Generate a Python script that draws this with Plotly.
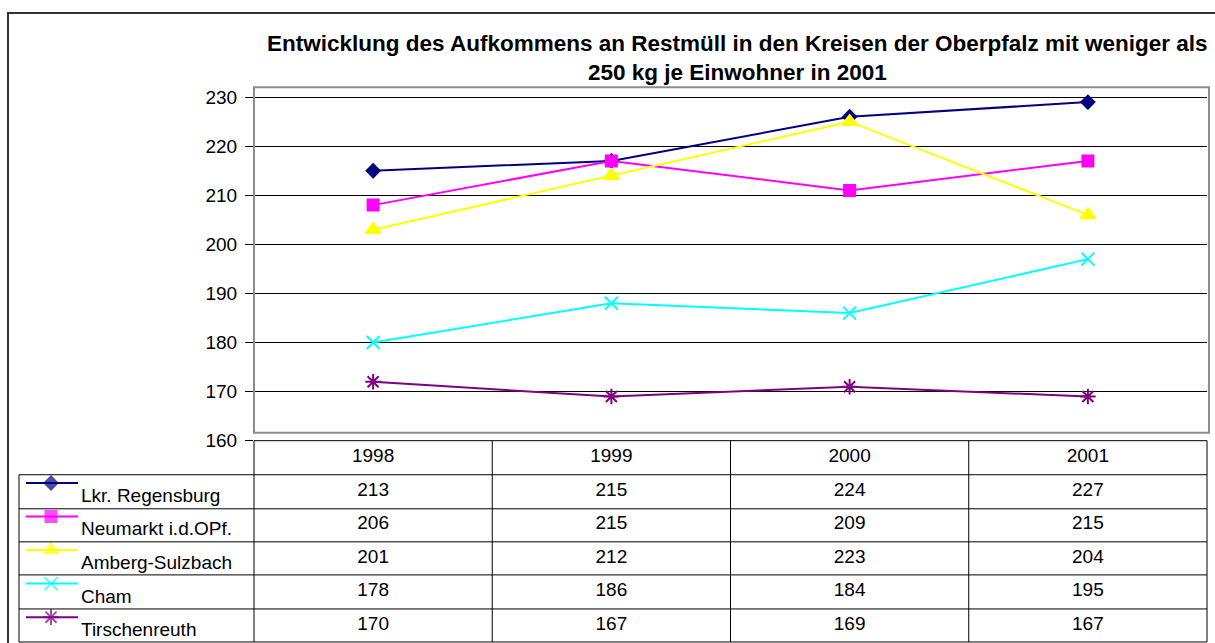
import plotly.graph_objects as go

W, H = 1215, 643
PAGE_H = 655  # the page is photographed a little squeezed vertically

# data
years = ['1998', '1999', '2000', '2001']
series_names = ['Lkr. Regensburg', 'Neumarkt i.d.OPf.', 'Amberg-Sulzbach',
                'Cham', 'Tirschenreuth']
# positions of the points as they are drawn in the chart
regensburg_plot = [215, 217, 226, 229]
neumarkt_plot = [208, 217, 211, 217]
amberg_plot = [203, 214, 225, 206]
cham_plot = [180, 188, 186, 197]
tirschenreuth_plot = [172, 169, 171, 169]
# values printed in the data table below the chart
regensburg_tab = [213, 215, 224, 227]
neumarkt_tab = [206, 215, 209, 215]
amberg_tab = [201, 212, 223, 204]
cham_tab = [178, 186, 184, 195]
tirschenreuth_tab = [170, 167, 169, 167]
y_ticks = [160, 170, 180, 190, 200, 210, 220, 230]

plot_values = [regensburg_plot, neumarkt_plot, amberg_plot, cham_plot,
               tirschenreuth_plot]
table_values = [regensburg_tab, neumarkt_tab, amberg_tab, cham_tab,
                tirschenreuth_tab]

styles = [
    dict(color='#000080', symbol='diamond', size=10),
    dict(color='#FF00FF', symbol='square', size=11),
    dict(color='#FFFF00', symbol='triangle-up', size=13),
    dict(color='#00FFFF', symbol='x-thin-open', size=13),
    dict(color='#800080', symbol='asterisk-open', size=13),
]

FONT = 'Arial, Liberation Sans, sans-serif'
TXT = 19


def px_x(p):
    return p / W


def px_y(p):
    return 1 - p / H


# pixel layout (in picture pixels)
PLOT_L, PLOT_R = 254, 1207
PLOT_TOP, PLOT_BOTTOM = 87, 432
AXIS_TOP, AXIS_BOTTOM = 87, 440  # 160 sits on the table's top edge
TABLE_BOTTOM = 641
LEG_L = 19
PX_PER_UNIT = 4.9

fig = go.Figure()

for name, vals, st in zip(series_names, plot_values, styles):
    fig.add_trace(go.Scatter(
        x=years, y=vals, mode='lines+markers', name=name,
        line=dict(color=st['color'], width=2),
        marker=dict(symbol=st['symbol'], size=st['size'], color=st['color'],
                    line=dict(color=st['color'], width=2)),
        xaxis='x', yaxis='y', showlegend=False,
    ))

# table text: header row (row 0) and values (rows 1..5)
fig.add_trace(go.Scatter(
    x=years, y=[0] * len(years), mode='text', text=years,
    textfont=dict(family=FONT, size=TXT, color='black'),
    xaxis='x', yaxis='y2', showlegend=False,
))
for i, vals in enumerate(table_values):
    fig.add_trace(go.Scatter(
        x=years, y=[i + 1] * len(years), mode='text',
        text=[str(v) for v in vals],
        textfont=dict(family=FONT, size=TXT, color='black'),
        xaxis='x', yaxis='y2', showlegend=False,
    ))

# legend keys inside the table's first column
for i, st in enumerate(styles):
    fig.add_trace(go.Scatter(
        x=[7, 32, 59], y=[i + 1 - 0.24] * 3, mode='lines+markers',
        line=dict(color=st['color'], width=2),
        marker=dict(symbol=st['symbol'], size=[0, st['size'], 0],
                    color=st['color'],
                    line=dict(color=st['color'], width=2)),
        xaxis='x3', yaxis='y2', showlegend=False, hoverinfo='skip',
    ))
    fig.add_annotation(
        x=60, y=i + 1 + 0.13, xref='x3', yref='y2', text=series_names[i],
        showarrow=False, xanchor='left', yanchor='middle',
        font=dict(family=FONT, size=TXT, color='black'),
    )

shapes = []
# outer frame
shapes.append(dict(type='rect', xref='paper', yref='paper',
                   x0=px_x(8), x1=px_x(1225), y0=px_y(13), y1=px_y(660),
                   line=dict(color='#333333', width=2)))
# plot area frame
shapes.append(dict(type='rect', xref='paper', yref='paper',
                   x0=px_x(PLOT_L), x1=px_x(1209),
                   y0=px_y(PLOT_TOP), y1=px_y(PLOT_BOTTOM),
                   line=dict(color='#8c8c8c', width=2)))
# table lines
row_edges = [440, 474, 508, 541, 574, 608, 641]
for k, ry in enumerate(row_edges):
    x_left = PLOT_L if k == 0 else LEG_L
    shapes.append(dict(type='line', xref='paper', yref='paper',
                       x0=px_x(x_left), x1=px_x(PLOT_R),
                       y0=px_y(ry), y1=px_y(ry),
                       line=dict(color='#000000', width=1)))
col_edges = [PLOT_L + (PLOT_R - PLOT_L) * j / 4 for j in range(5)]
for cx in col_edges:
    shapes.append(dict(type='line', xref='paper', yref='paper',
                       x0=px_x(cx), x1=px_x(cx),
                       y0=px_y(440), y1=px_y(TABLE_BOTTOM),
                       line=dict(color='#000000', width=1)))
shapes.append(dict(type='line', xref='paper', yref='paper',
                   x0=px_x(LEG_L), x1=px_x(LEG_L),
                   y0=px_y(474), y1=px_y(TABLE_BOTTOM),
                   line=dict(color='#000000', width=1)))

# title in two lines
fig.add_annotation(
    x=px_x(737), y=px_y(43), xref='paper', yref='paper', showarrow=False,
    text='<b>Entwicklung des Aufkommens an Restmüll in den Kreisen der '
         'Oberpfalz mit weniger als</b>',
    font=dict(family=FONT, size=22.5, color='black'),
    xanchor='center', yanchor='middle',
)
fig.add_annotation(
    x=px_x(737), y=px_y(72), xref='paper', yref='paper', showarrow=False,
    text='<b>250 kg je Einwohner in 2001</b>',
    font=dict(family=FONT, size=22.5, color='black'),
    xanchor='center', yanchor='middle',
)

y_top_value = 160 + (AXIS_BOTTOM - AXIS_TOP) / PX_PER_UNIT

fig.update_layout(
    width=W, height=PAGE_H,
    margin=dict(l=0, r=0, t=0, b=0),
    paper_bgcolor='white',
    plot_bgcolor='rgba(0,0,0,0)',
    showlegend=False,
    shapes=shapes,
    xaxis=dict(
        type='category', domain=[px_x(PLOT_L), px_x(PLOT_R)],
        range=[-0.5, 3.5], showticklabels=False, showgrid=False,
        zeroline=False, showline=False, ticks='', anchor='y',
    ),
    yaxis=dict(
        domain=[px_y(AXIS_BOTTOM), px_y(AXIS_TOP)],
        range=[160, y_top_value], tickvals=y_ticks,
        ticktext=[str(t) for t in y_ticks],
        ticks='outside', ticklen=8, tickcolor='black', tickwidth=1,
        ticklabelstandoff=4,
        showgrid=True, gridcolor='black', gridwidth=1,
        zeroline=False, showline=False,
        tickfont=dict(family=FONT, size=TXT, color='black'),
        anchor='x',
    ),
    yaxis2=dict(
        domain=[px_y(TABLE_BOTTOM), px_y(440)], range=[5.5, -0.5],
        showticklabels=False, showgrid=False, zeroline=False,
        showline=False, anchor='x',
    ),
    xaxis3=dict(
        domain=[px_x(LEG_L), px_x(PLOT_L)], range=[0, PLOT_L - LEG_L],
        showticklabels=False, showgrid=False, zeroline=False,
        showline=False, anchor='y2',
    ),
)

fig.write_html(
    'out.html',
    config={'displayModeBar': False},
    post_script="document.body.style.margin='0';"
                "document.body.style.overflow='hidden';",
)
